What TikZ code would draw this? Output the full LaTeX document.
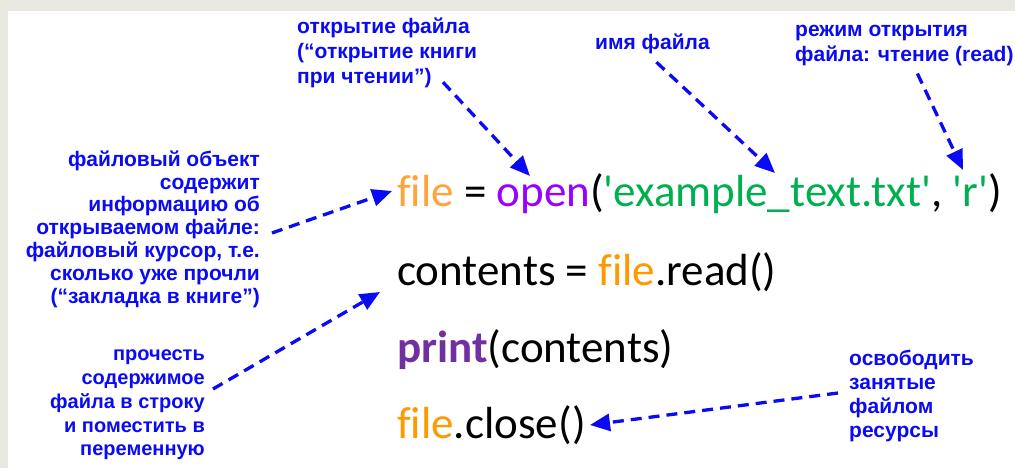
\documentclass[tikz,border=0pt]{standalone}
\usepackage{fontspec}
\setmainfont{Liberation Sans}
\newfontfamily\codefont{Carlito}[Ligatures=NoCommon]
\usetikzlibrary{arrows.meta,calc}
\definecolor{lblblue}{RGB}{10,10,245}
\definecolor{codeorange}{RGB}{255,153,0}
\definecolor{codeorangelight}{RGB}{255,163,60}
\definecolor{codeviolet}{RGB}{153,0,255}
\definecolor{codepurple}{RGB}{112,48,160}
\definecolor{codegreen}{RGB}{0,176,80}
\definecolor{framegray}{RGB}{232,232,224}
\begin{document}
\begin{tikzpicture}[x=1pt,y=-1pt,
  lbl/.style={text=lblblue, inner sep=0pt, font=\bfseries\fontsize{21}{22.8}\selectfont},
  codeline/.style={anchor=base west, inner sep=0pt, font=\codefont\fontsize{45}{54}\selectfont},
  note/.style={draw=lblblue, line width=3.3pt, dash pattern=on 11pt off 7pt,
    -{Triangle[length=20pt,width=17pt]}}
]
\useasboundingbox (0,0) rectangle (1015,468);
\fill[white] (0,0) rectangle (1015,468);
\fill[framegray] (0,0) rectangle (1015,11);
\fill[framegray] (0,0) rectangle (8,468);

% code
\node[codeline] (c1) at (397,207) {\textcolor{codeorangelight}{file} = \textcolor{codeviolet}{open}(\textcolor{codegreen}{'example\_text.txt'}, \textcolor{codegreen}{'r'})};
\node[codeline] (c2) at (397,285) {contents = \textcolor{codeorange}{file}.read()};
\node[codeline] (c3) at (397,362) {\textcolor{codepurple}{\bfseries print}(contents)};
\node[codeline] (c4) at (397,438) {\textcolor{codeorange}{file}.close()};

% labels
\node[lbl, anchor=east, align=right] (lobj) at (260,229) {файловый объект\\содержит\\информацию об\\открываемом файле:\\файловый курсор, т.е.\\сколько уже прочли\\(“закладка в книге”)};
\node[lbl, anchor=east, align=right, font=\bfseries\fontsize{20}{23.7}\selectfont] (lread) at (205,405) {прочесть\\содержимое\\файла в строку\\и поместить в\\переменную};
\node[lbl, anchor=west, align=left, font=\bfseries\fontsize{21}{25}\selectfont] (lopen) at (297,53) {открытие файла\\(“открытие книги\\при чтении”)};
\node[lbl, anchor=west] (lname) at (595,44) {имя файла};
\node[lbl, anchor=west, align=left, font=\bfseries\fontsize{21}{25}\selectfont] (lmode) at (795,46) {режим открытия\\файла: чтение (read)};
\node[lbl, anchor=west, align=left, font=\bfseries\fontsize{21}{24}\selectfont] (lfree) at (849,396) {освободить\\занятые\\файлом\\ресурсы};

% arrow tips
\coordinate (tfile) at (392,191);
\coordinate (tcontents) at (380,292);
\coordinate (topen) at (530,176);
\coordinate (tname) at (775,173);
\coordinate (tmode) at (963,170);
\coordinate (tclose) at (590,425);

\draw[note] ($(lobj.east)+(12,4)$) -- (tfile);
\draw[note] ($(lread.east)+(8,-16)$) -- (tcontents);
\draw[note] ($(lopen.south west)+(146,-6)$) -- (topen);
\draw[note] ($(lname.south)+(4,8)$) -- (tname);
\draw[note] ($(lmode.south)+(13,7)$) -- (tmode);
\draw[note] ($(lfree.west)+(-11,-3)$) -- (tclose);
\end{tikzpicture}
\end{document}
